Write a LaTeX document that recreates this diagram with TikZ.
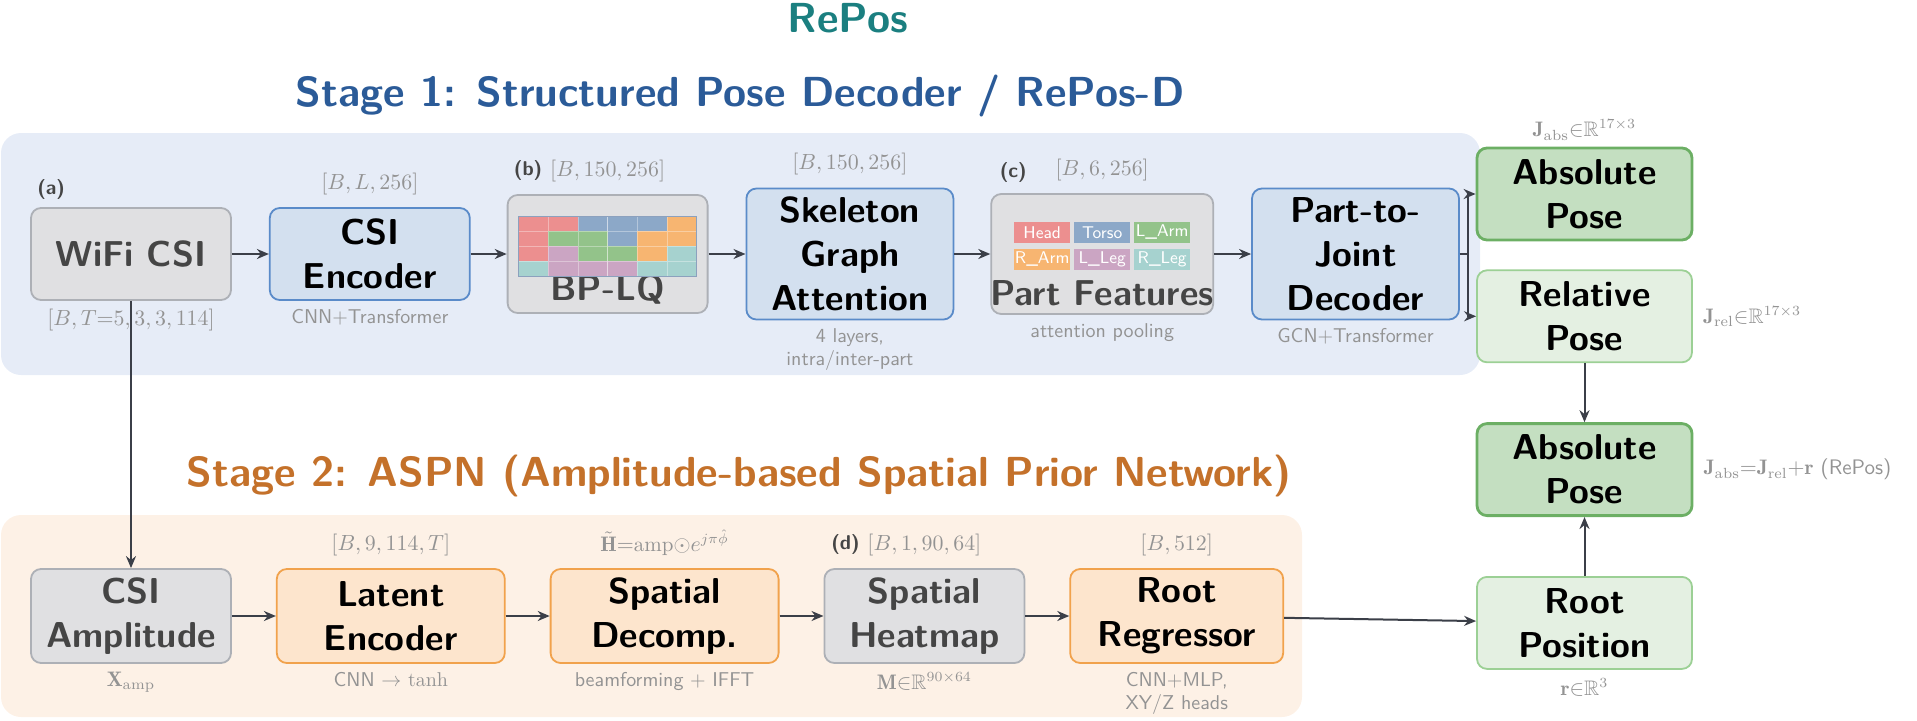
\documentclass[tikz,border=0pt]{standalone}
\usepackage{fontspec}
\usepackage{amsmath}
\usepackage{amssymb}
\usetikzlibrary{positioning,arrows.meta,calc}

\definecolor{reposc}{HTML}{1B7F80}
\definecolor{stageA}{HTML}{2B5B98}
\definecolor{stageB}{HTML}{C4712A}
\definecolor{bgA}{HTML}{E6ECF7}
\definecolor{bgB}{HTML}{FDF1E6}
\definecolor{boxgray}{HTML}{E0E0E2}
\definecolor{linegray}{HTML}{ADB0B6}
\definecolor{txtgray}{HTML}{454545}
\definecolor{boxblue}{HTML}{D3E0EF}
\definecolor{lineblue}{HTML}{5A8BC9}
\definecolor{boxorange}{HTML}{FDE5CD}
\definecolor{lineorange}{HTML}{F1A24C}
\definecolor{boxgreen}{HTML}{C4DFC1}
\definecolor{linegreen}{HTML}{6CAF64}
\definecolor{boxlgreen}{HTML}{E4F0E2}
\definecolor{linelgreen}{HTML}{9CD095}
\definecolor{arrowc}{HTML}{3B3F48}
\definecolor{notec}{HTML}{939393}
\definecolor{cHead}{HTML}{EC8F8F}
\definecolor{cTorso}{HTML}{8CA8C8}
\definecolor{cLArm}{HTML}{93C38A}
\definecolor{cRArm}{HTML}{F7B571}
\definecolor{cLLeg}{HTML}{CBA5C3}
\definecolor{cRLeg}{HTML}{A6D2CF}

\tikzset{
  blk/.style={rectangle, rounded corners=5pt, line width=0.9pt, align=center, inner sep=2pt,
    font=\sffamily\bfseries\fontsize{18}{22}\selectfont},
  grayblk/.style={blk, fill=boxgray, draw=linegray, text=txtgray},
  blueblk/.style={blk, fill=boxblue, draw=lineblue},
  orangeblk/.style={blk, fill=boxorange, draw=lineorange},
  greenblk/.style={blk, fill=boxgreen, draw=linegreen, line width=1.4pt},
  lgreenblk/.style={blk, fill=boxlgreen, draw=linelgreen},
  boxtxt/.style={font=\sffamily\bfseries\fontsize{18}{22}\selectfont, text=txtgray, inner sep=0pt},
  dim/.style={text=notec, inner sep=1pt, font=\fontsize{10.5}{12}\selectfont},
  note/.style={text=notec, inner sep=1pt, align=center, font=\sffamily\fontsize{10}{11.5}\selectfont},
  tag/.style={text=txtgray, inner sep=1pt, font=\sffamily\bfseries\fontsize{10}{12}\selectfont},
  title/.style={font=\sffamily\bfseries\fontsize{21}{25}\selectfont},
  chip/.style={text=white, minimum width=28pt, minimum height=10.5pt, inner sep=0pt,
    font=\sffamily\fontsize{8.5}{9}\selectfont},
  arr/.style={-{Stealth[length=6pt,width=5pt]}, line width=1pt, draw=arrowc},
}

\begin{document}
\begin{tikzpicture}[x=0.5pt,y=0.5pt]
\useasboundingbox (0,0) rectangle (1917,720);
\fill[bgA, rounded corners=10pt] (1,345) rectangle (1480,587);
\fill[bgB, rounded corners=10pt] (1,3) rectangle (1302,205);

\node[title, text=reposc] (repos) at (848,702) {RePos};
\node[title, text=stageA] (titleA) at (740,624) {Stage 1: Structured Pose Decoder / RePos-D};
\node[title, text=stageB] (titleB) at (739,244) {Stage 2: ASPN (Amplitude-based Spatial Prior Network)};

% stage 1
\node[grayblk, minimum width=100pt, minimum height=46pt] (wifi) at (131,466) {WiFi CSI};
\node[blueblk, minimum width=100pt, minimum height=46pt, right=18.5pt of wifi] (enc) {CSI\\Encoder};
\node[grayblk, minimum width=100pt, minimum height=59pt, right=18pt of enc] (bplq) {};
\node[blueblk, minimum width=103.5pt, minimum height=65.5pt, right=18.5pt of bplq] (skel) {Skeleton\\Graph\\Attention};
\node[grayblk, minimum width=111pt, minimum height=60pt, right=18pt of skel] (parts) {};
\node[blueblk, minimum width=103.5pt, minimum height=65.5pt, right=18.5pt of parts] (p2j) {Part-to-\\Joint\\Decoder};

\node[boxtxt] (bplqtxt) at ($(bplq.center)+(0,-36)$) {BP-LQ};
\node[boxtxt] (partstxt) at ($(parts.center)+(0,-39)$) {Part Features};

\foreach \row [count=\r] in {{cHead,cHead,cTorso,cTorso,cTorso,cRArm},{cHead,cLArm,cLArm,cTorso,cRArm,cRArm},
    {cHead,cLLeg,cLArm,cLArm,cRArm,cRLeg},{cRLeg,cLLeg,cLLeg,cLLeg,cRLeg,cRLeg}}
  \foreach \cl [count=\k] in \row
    \filldraw[fill=\cl, draw=white, draw opacity=0.35, line width=0.3pt]
      ($(bplq.center)+(-89+29.67*\k-29.67,38-15*\r)$) rectangle ++(29.67,15);
\draw[draw=lineblue!40!linegray, line width=0.5pt] ($(bplq.center)+(-89,-22)$) rectangle ($(bplq.center)+(89,38)$);

\foreach \nm/\cl/\dx/\dy in {Head/cHead/-60/21.5, Torso/cTorso/0/21.5, L\_Arm/cLArm/60/21.5,
    R\_Arm/cRArm/-60/-5, L\_Leg/cLLeg/0/-5, R\_Leg/cRLeg/60/-5}
  \node[chip, fill=\cl] (chip\cl) at ($(parts.center)+(\dx,\dy)$) {\nm};

\node[tag] (taga) at ($(wifi.north west)+(21,18)$) {(a)};
\node[note, below=3pt of wifi, font=\fontsize{10.5}{12}\selectfont] (wifidim) {$[B,T{=}5,3,3,114]$};
\node[dim, above=5pt of enc] (encdim) {$[B,L,256]$};
\node[note, below=3pt of enc] (encnote) {CNN$+$Transformer};
\node[dim, above=5pt of bplq] (bplqdim) {$[B,150,256]$};
\node[tag, left=1.5pt of bplqdim] (tagb) {(b)};
\node[dim, above=5pt of skel] (skeldim) {$[B,150,256]$};
\node[note, below=3pt of skel] (skelnote) {4 layers,\\intra/inter-part};
\node[dim, above=5pt of parts] (partsdim) {$[B,6,256]$};
\node[tag] (tagc) at ($(parts.north west)+(23,21)$) {(c)};
\node[note, below=3pt of parts] (partsnote) {attention pooling};
\node[note, below=3pt of p2j] (p2jnote) {GCN$+$Transformer};

% outputs
\node[greenblk, minimum width=107.5pt, minimum height=46pt] (absA) at (1584.5,526) {Absolute\\Pose};
\node[lgreenblk, minimum width=107.5pt, minimum height=46pt, below=14pt of absA] (relP) {Relative\\Pose};
\node[greenblk, minimum width=107.5pt, minimum height=46pt, below=29.5pt of relP] (absB) {Absolute\\Pose};
\node[lgreenblk, minimum width=107.5pt, minimum height=46pt, below=29.5pt of absB] (root) {Root\\Position};
\node[dim, above=2pt of absA] (absAdim) {$\mathbf{J}_{\mathrm{abs}}{\in}\mathbb{R}^{17\times3}$};
\node[dim, right=4pt of relP] (relPdim) {$\mathbf{J}_{\mathrm{rel}}{\in}\mathbb{R}^{17\times3}$};
\node[dim, right=4pt of absB] (absBdim) {$\mathbf{J}_{\mathrm{abs}}{=}\mathbf{J}_{\mathrm{rel}}{+}\mathbf{r}$ \textsf{(RePos)}};
\node[dim, below=3pt of root] (rootdim) {$\mathbf{r}{\in}\mathbb{R}^3$};

% stage 2
\node[grayblk, minimum width=100pt, minimum height=47pt] (amp) at (131,104) {CSI\\Amplitude};
\node[orangeblk, minimum width=114pt, minimum height=47pt, right=22pt of amp] (lat) {Latent\\Encoder};
\node[orangeblk, minimum width=114pt, minimum height=47pt, right=22pt of lat] (dec) {Spatial\\Decomp.};
\node[grayblk, minimum width=100pt, minimum height=47pt, right=22pt of dec] (heat) {Spatial\\Heatmap};
\node[orangeblk, minimum width=106.5pt, minimum height=47pt, right=22pt of heat] (reg) {Root\\Regressor};

\node[dim, below=3pt of amp] (ampdim) {$\mathbf{X}_{\mathrm{amp}}$};
\node[dim, above=5pt of lat] (latdim) {$[B,9,114,T]$};
\node[note, below=3pt of lat] (latnote) {CNN $\rightarrow$ $\tanh$};
\node[dim, above=5pt of dec] (decdim) {$\tilde{\mathbf{H}}{=}\mathrm{amp}{\odot}e^{j\pi\hat{\phi}}$};
\node[note, below=3pt of dec] (decnote) {beamforming $+$ IFFT};
\node[dim, above=5pt of heat] (heatdim) {$[B,1,90,64]$};
\node[tag, left=1.5pt of heatdim] (tagd) {(d)};
\node[dim, below=3pt of heat] (heatnote) {$\mathbf{M}{\in}\mathbb{R}^{90\times64}$};
\node[dim, above=5pt of reg] (regdim) {$[B,512]$};
\node[note, below=3pt of reg] (regnote) {CNN$+$MLP,\\XY/Z heads};

\draw[arr] (wifi) -- (enc);
\draw[arr] (enc) -- (bplq);
\draw[arr] (bplq) -- (skel);
\draw[arr] (skel) -- (parts);
\draw[arr] (parts) -- (p2j);
\draw[arr] (p2j.east) -- ++(4pt,0) |- (absA.west);
\draw[arr] (p2j.east) -- ++(4pt,0) |- (relP.west);
\draw[arr] (wifi) -- (amp);
\draw[arr] (amp) -- (lat);
\draw[arr] (lat) -- (dec);
\draw[arr] (dec) -- (heat);
\draw[arr] (heat) -- (reg);
\draw[arr] (reg) -- (root);
\draw[arr] (relP) -- (absB);
\draw[arr] (root) -- (absB);
\end{tikzpicture}
\end{document}
